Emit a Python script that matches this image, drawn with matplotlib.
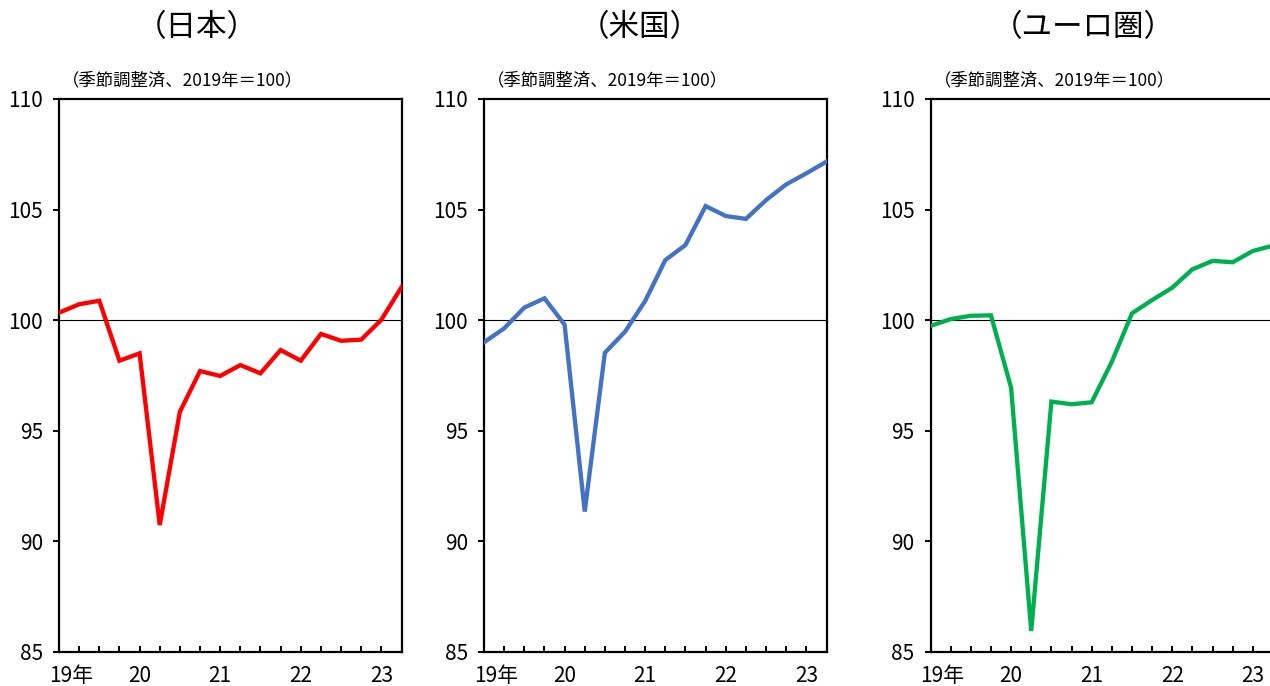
import matplotlib
matplotlib.use("Agg")
import matplotlib.pyplot as plt
import matplotlib.transforms as mtransforms

plt.rcParams['font.family'] = ['Noto Sans CJK JP', 'DejaVu Sans']

# Quarterly real GDP index, 2019Q1 .. 2023Q2 (seasonally adjusted, 2019 = 100)
quarters = ["19Q1", "19Q2", "19Q3", "19Q4", "20Q1", "20Q2", "20Q3", "20Q4",
            "21Q1", "21Q2", "21Q3", "21Q4", "22Q1", "22Q2", "22Q3", "22Q4",
            "23Q1", "23Q2"]
year_labels = {0: "19年", 4: "20", 8: "21", 12: "22", 16: "23"}

japan = [100.34, 100.72, 100.88, 98.17, 98.50, 90.74, 95.86, 97.70, 97.48,
         97.97, 97.60, 98.65, 98.17, 99.38, 99.07, 99.12, 100.02, 101.49]
usa = [99.00, 99.63, 100.57, 100.99, 99.80, 91.35, 98.53, 99.48, 100.87,
       102.72, 103.40, 105.16, 104.71, 104.58, 105.43, 106.14, 106.64, 107.17]
euro = [99.74, 100.05, 100.20, 100.22, 96.95, 85.95, 96.32, 96.20, 96.29,
        98.12, 100.31, 100.91, 101.47, 102.30, 102.68, 102.62, 103.13, 103.37]

titles = ["（日本）", "（米国）", "（ユーロ圏）"]
series = [japan, usa, euro]
colors = ["#FF0000", "#4472C4", "#00B050"]
unit_note = "（季節調整済、2019年＝100）"
y_ticks = [85, 90, 95, 100, 105, 110]

W, H = 1270, 686
fig = plt.figure(figsize=(W / 100, H / 100), dpi=100)

panel_left_px = [59, 484, 930.5]
panel_width_px = 342.5
title_center_px = [197, 640, 1083]
top_px, bottom_px = 99, 652

x = list(range(len(quarters)))

for i in range(3):
    ax = fig.add_axes([panel_left_px[i] / W, 1 - bottom_px / H,
                       panel_width_px / W, (bottom_px - top_px) / H])
    ax.axhline(100, color="black", lw=0.8, zorder=2)
    ax.plot(x, series[i], color=colors[i], lw=3.1, zorder=3,
            solid_joinstyle="miter")
    ax.set_xlim(0, len(quarters) - 1)
    ax.set_ylim(85, 110)

    ax.set_yticks(y_ticks)
    ax.set_yticklabels([str(v) for v in y_ticks])
    ax.tick_params(axis="y", direction="out", length=4.5, width=1.4,
                   labelsize=15, pad=7)

    ax.set_xticks(x)
    ax.set_xticklabels([year_labels.get(k, "") for k in x])
    ax.tick_params(axis="x", direction="in", length=4.5, width=1.4,
                   labelsize=15, pad=9)
    first = ax.get_xticklabels()[0]
    first.set_transform(first.get_transform() +
                        mtransforms.ScaledTranslation(0.12, 0, fig.dpi_scale_trans))

    for s in ax.spines.values():
        s.set_linewidth(1.6)
        s.set_color("black")

    fig.text((panel_left_px[i] + 3) / W, 1 - 80 / H, unit_note,
             fontsize=12.5, ha="left", va="center")
    fig.text(title_center_px[i] / W, 1 - 28 / H, titles[i],
             fontsize=22, ha="center", va="center")

fig.savefig("out.png", dpi=100)
